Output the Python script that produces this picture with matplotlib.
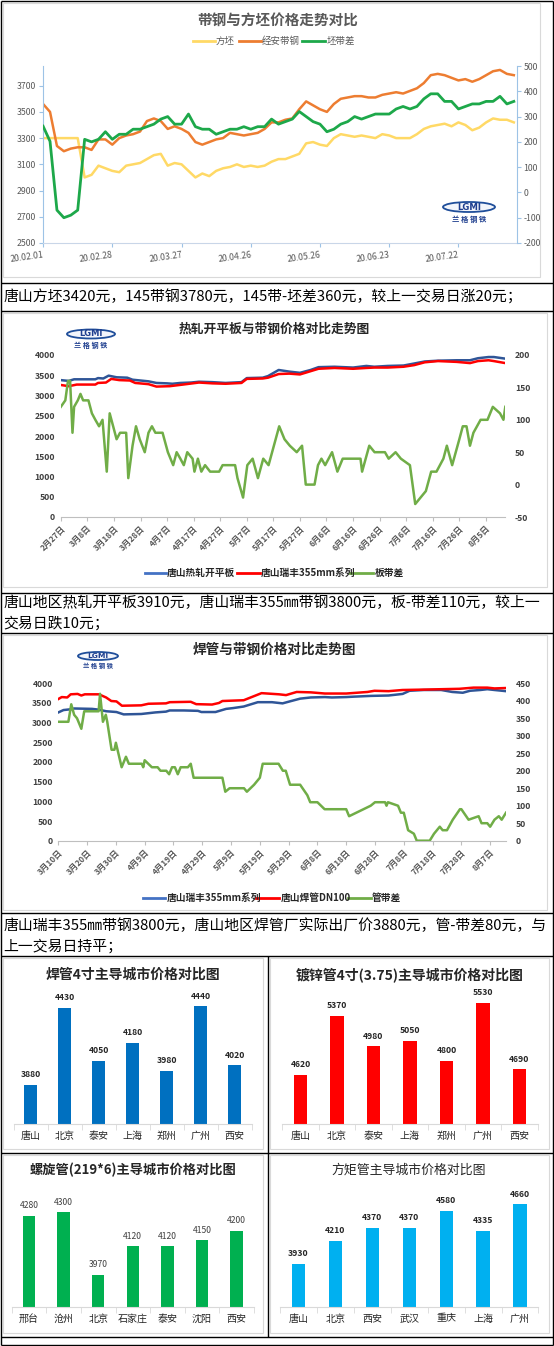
import matplotlib
matplotlib.use('Agg')
import matplotlib.pyplot as plt
from matplotlib.patches import Ellipse, Rectangle
import numpy as np

plt.rcParams['font.family'] = ['Noto Sans CJK SC', 'DejaVu Sans']
plt.rcParams['axes.unicode_minus'] = False

# ---------------- data ----------------
# Chart 1: 带钢与方坯价格走势对比 (every second trading day)
c1_labels = ['20.02.01', '20.02.28', '20.03.27', '20.04.26', '20.05.26', '20.06.23', '20.07.22']
billet1 = [3300, 3300, 3300, 3300, 3300, 3300, 3000, 3020, 3090, 3070,
           3050, 3040, 3090, 3100, 3110, 3140, 3170, 3180, 3090, 3110,
           3100, 3050, 3000, 3030, 3010, 3050, 3070, 3080, 3100, 3080,
           3090, 3080, 3090, 3120, 3140, 3140, 3160, 3180, 3260, 3270,
           3250, 3240, 3300, 3330, 3320, 3310, 3320, 3310, 3300, 3330,
           3320, 3300, 3300, 3300, 3330, 3370, 3390, 3400, 3410, 3390,
           3420, 3400, 3360, 3380, 3420, 3450, 3440, 3440, 3420]
strip1 = [3560, 3500, 3240, 3200, 3220, 3230, 3230, 3210, 3290, 3290,
          3250, 3300, 3320, 3330, 3350, 3430, 3450, 3430, 3370, 3390,
          3370, 3340, 3270, 3250, 3270, 3290, 3300, 3340, 3330, 3320,
          3330, 3340, 3370, 3420, 3420, 3440, 3450, 3520, 3580, 3550,
          3520, 3500, 3560, 3600, 3610, 3620, 3620, 3610, 3610, 3630,
          3640, 3650, 3640, 3660, 3680, 3720, 3780, 3790, 3780, 3760,
          3740, 3750, 3730, 3750, 3780, 3810, 3820, 3790, 3780]
diff1 = [262, 202, -70, -100, -90, -70, 210, 200, 210, 240,
         210, 230, 230, 250, 250, 260, 270, 290, 300, 270,
         270, 310, 260, 250, 250, 230, 240, 250, 250, 260,
         250, 260, 260, 290, 270, 280, 290, 320, 300, 280,
         270, 240, 250, 270, 280, 300, 290, 300, 310, 310,
         310, 330, 340, 330, 340, 370, 390, 390, 360, 360,
         330, 340, 350, 350, 360, 360, 380, 350, 360]

# Chart 2: 热轧开平板与带钢价格对比走势图 (days after 2月27日)
c2_labels = ['2月27日', '3月8日', '3月18日', '3月28日', '4月7日', '4月17日', '4月27日',
             '5月7日', '5月17日', '5月27日', '6月6日', '6月16日', '6月26日', '7月6日',
             '7月16日', '7月26日', '8月5日']
days2b = [0, 3, 5, 13, 14, 16, 18, 21, 25, 27,
          30, 33, 36, 40, 42, 45, 49, 52, 57, 62,
          68, 70, 76, 78, 82, 86, 90, 94, 97, 103,
          110, 115, 118, 123, 129, 133, 137, 142, 149, 154,
          157, 161, 163, 167.3]
hotroll2 = [3380, 3360, 3400, 3400, 3430, 3420, 3490, 3450, 3440, 3390,
            3370, 3350, 3310, 3300, 3290, 3310, 3320, 3340, 3330, 3310,
            3330, 3430, 3440, 3480, 3630, 3590, 3560, 3630, 3700, 3710,
            3690, 3730, 3710, 3730, 3740, 3790, 3840, 3860, 3870, 3870,
            3920, 3950, 3950, 3910]
days2r = [0, 3, 6, 13, 14, 17, 19, 22, 26, 28,
          33, 36, 41, 46, 52, 57, 62, 68, 70, 76,
          78, 82, 86, 90, 94, 97, 103, 110, 115, 118,
          123, 129, 133, 137, 142, 149, 154, 157, 161, 163,
          167.3]
ruifeng2 = [3260, 3230, 3270, 3270, 3310, 3320, 3410, 3380, 3370, 3310,
            3280, 3220, 3230, 3270, 3320, 3300, 3290, 3310, 3410, 3420,
            3440, 3530, 3540, 3520, 3600, 3660, 3680, 3660, 3680, 3690,
            3690, 3710, 3750, 3820, 3850, 3830, 3800, 3850, 3870, 3850,
            3800]
days2g = [0, 1.7, 2.7, 3.5, 4.4, 5, 6.4, 7.4, 8.4, 10.4,
          11.7, 13, 14.4, 15.7, 17.3, 18.4, 19.7, 21, 22.3, 24.6,
          25.4, 27, 28.3, 29.7, 31.6, 33, 34.3, 35.6, 38.3, 40.3,
          42.3, 43.6, 45, 46.3, 47.6, 49.6, 50.3, 51.6, 52.9, 54.3,
          56.2, 59.6, 60.9, 65.6, 66.5, 68.6, 70.2, 72.2, 74.2, 76.2,
          78.2, 80.2, 82.2, 84.2, 86.2, 88.8, 90.8, 92.2, 95.5, 96.8,
          98.1, 99.5, 102.1, 104.1, 106.1, 112.8, 113.4, 116.1, 118.1, 122,
          123.4, 126, 128, 131.4, 133.4, 137.4, 139.4, 141.4, 144, 145.3,
          147.3, 150, 151.3, 152.7, 154, 155.3, 158, 160.6, 162.6, 165.3,
          166.6, 167.3]
spread2 = [120, 130, 160, 160, 80, 120, 130, 140, 130, 130,
           110, 100, 90, 100, 20, 110, 90, 70, 80, 80,
           10, 60, 90, 70, 50, 80, 90, 80, 80, 50,
           30, 50, 40, 30, 50, 40, 20, 40, 20, 30,
           20, 20, 30, 30, 10, -20, 30, 40, 10, 40,
           30, 60, 90, 70, 60, 50, 60, 0, 0, 30,
           40, 30, 50, 20, 40, 40, 20, 60, 50, 50,
           40, 50, 40, 30, -30, -10, 20, 20, 40, 60,
           30, 70, 90, 90, 60, 80, 100, 100, 120, 110,
           100, 120]

# Chart 3: 焊管与带钢价格对比走势图 (days after 3月10日)
c3_labels = ['3月10日', '3月20日', '3月30日', '4月9日', '4月19日', '4月29日', '5月9日',
             '5月19日', '5月29日', '6月8日', '6月18日', '6月28日', '7月8日', '7月18日',
             '7月28日', '8月7日']
days3b = [0, 1.8, 4.3, 5.5, 11.7, 14.1, 16.6, 20.2, 22.7, 28.8,
          33.7, 37.4, 38.7, 43.6, 48.5, 49.7, 54.6, 58.3, 60.7, 64.4,
          69.3, 74.2, 77.9, 80.4, 84, 87.7, 92.6, 95, 100, 102.5,
          108.6, 114.7, 119.6, 122, 127, 133, 136.8, 140.5, 143, 146.6,
          149, 151.5, 155.5]
ruifeng3 = [3260, 3320, 3340, 3360, 3350, 3330, 3290, 3270, 3210, 3220,
            3260, 3280, 3310, 3310, 3300, 3270, 3270, 3350, 3370, 3410,
            3520, 3520, 3490, 3540, 3610, 3640, 3650, 3640, 3650, 3660,
            3680, 3690, 3730, 3810, 3830, 3830, 3780, 3760, 3810, 3830,
            3850, 3830, 3800]
days3r = [0, 1.2, 3.1, 4.3, 6.7, 8, 9.2, 14.1, 16.6, 18.4,
          20.2, 22.1, 28.8, 31.3, 37.4, 38.7, 46, 47.9, 53.4, 55.8,
          57, 64.4, 70.6, 76.7, 79.1, 82.8, 87.7, 92.6, 100, 107.4,
          109.8, 114.7, 119.6, 127, 133, 139.3, 144.2, 149, 151.5, 155.5]
weldpipe3 = [3600, 3650, 3640, 3720, 3730, 3690, 3720, 3720, 3640, 3550,
             3540, 3430, 3440, 3480, 3490, 3520, 3530, 3470, 3460, 3500,
             3550, 3570, 3750, 3720, 3700, 3780, 3770, 3740, 3740, 3780,
             3810, 3800, 3830, 3840, 3850, 3860, 3890, 3890, 3870, 3880]
days3g = [0, 3.5, 4.5, 5.5, 6.5, 8, 9, 14, 14.5, 15.5,
          16.5, 17, 18.5, 19.5, 20, 22, 23.5, 24.5, 29, 29.5,
          30, 32.5, 34.5, 35.5, 37.5, 38.5, 39.5, 40.5, 41.5, 42.5,
          45, 46, 47, 57, 58, 59.5, 64.5, 65.5, 68, 70,
          71, 76.5, 78, 79, 80.5, 84, 86.5, 87.5, 90, 92.5,
          100, 101, 103.5, 106, 108.5, 110, 113.5, 114, 114.5, 118,
          119, 120, 121.5, 123.5, 124.5, 129, 130.5, 132.5, 133.5, 135,
          137, 139.5, 140, 142.5, 146, 147, 149, 150, 151.5, 153,
          154, 155.5]
pipespread3 = [340, 340, 390, 360, 350, 320, 370, 370, 420, 340,
               360, 340, 260, 260, 280, 210, 240, 220, 220, 210,
               230, 210, 210, 200, 200, 190, 210, 210, 190, 210,
               210, 220, 180, 180, 140, 150, 150, 140, 160, 180,
               220, 220, 200, 200, 160, 160, 130, 110, 110, 90,
               90, 70, 80, 90, 100, 110, 110, 100, 110, 100,
               80, 80, 30, 20, 0, 0, 20, 40, 30, 30,
               60, 90, 90, 60, 70, 50, 50, 40, 60, 70,
               60, 80]

# Bar charts
cities_a = ['唐山', '北京', '泰安', '上海', '郑州', '广州', '西安']
weld4 = [3880, 4430, 4050, 4180, 3980, 4440, 4020]
cities_b = ['唐山', '北京', '泰安', '上海', '郑州', '广州', '西安']
galv4 = [4620, 5370, 4980, 5050, 4800, 5530, 4690]
cities_c = ['邢台', '沧州', '北京', '石家庄', '泰安', '沈阳', '西安']
spiral = [4280, 4300, 3970, 4120, 4120, 4150, 4200]
cities_d = ['唐山', '北京', '西安', '武汉', '重庆', '上海', '广州']
square = [3930, 4210, 4370, 4370, 4580, 4335, 4660]

text1 = '唐山方坯3420元，145带钢3780元，145带-坯差360元，较上一交易日涨20元；'
text2a = '唐山地区热轧开平板3910元，唐山瑞丰355㎜带钢3800元，板-带差110元，较上一'
text2b = '交易日跌10元；'
text3a = '唐山瑞丰355㎜带钢3800元，唐山地区焊管厂实际出厂价3880元，管-带差80元，与'
text3b = '上一交易日持平；'

# ---------------- figure ----------------
W, H = 554, 1346
fig = plt.figure(figsize=(W / 100, H / 100), dpi=100)
fig.patch.set_facecolor('white')

ov = fig.add_axes([0, 0, 1, 1])
ov.set_xlim(0, W)
ov.set_ylim(H, 0)
ov.axis('off')


def add_ax(x0, y0, x1, y1):
    ax = fig.add_axes([x0 / W, 1 - y1 / H, (x1 - x0) / W, (y1 - y0) / H])
    ax.set_facecolor('none')
    return ax


# light chart frames
for (x0, y0, x1, y1) in [(3, 3, 540, 277), (3, 313, 547, 587), (3, 635, 547, 910),
                         (3, 958, 263, 1149), (270, 958, 549, 1149),
                         (3, 1155, 263, 1333), (270, 1155, 549, 1333)]:
    ov.add_patch(Rectangle((x0, y0), x1 - x0, y1 - y0, fill=False, ec='#D9D9D9', lw=0.8))

# black table lines
K = dict(color='black', lw=1.0, solid_capstyle='butt')
ov.plot([1, 1], [0.5, 1345], **K)
ov.plot([552.5, 552.5], [0.5, 1345], **K)
for yy in [0.8, 283, 311, 593, 633, 913, 956, 1153, 1337, 1344.5]:
    ov.plot([1, 552.5], [yy, yy], **K)
ov.plot([267.5, 267.5], [956, 1337], **K)

# text rows
TS = dict(fontsize=10.7, color='black', va='center', ha='left')
ov.text(3.5, 297, text1, **TS)
ov.text(3.5, 603, text2a, **TS)
ov.text(3.5, 623, text2b, **TS)
ov.text(3.5, 926, text3a, **TS)
ov.text(3.5, 946, text3b, **TS)


def logo(cx, cy, w, h, fs):
    ov.add_patch(Ellipse((cx, cy), w, h, fc='#F2F5FB', ec='#1F4E9A', lw=1.3))
    ov.text(cx, cy, 'LGMI', ha='center', va='center', fontsize=fs, fontweight='bold',
            color='#1F3F8F', family='DejaVu Sans')
    ov.text(cx, cy + h * 1.2, '兰 格 钢 铁', ha='center', va='center', fontsize=fs * 0.85,
            fontweight='bold', color='#1F3F8F')


# ---------------- chart 1 ----------------
YEL, ORA, GRN1 = '#FFD966', '#ED7D31', '#1DA84A'
ov.text(278, 20, '带钢与方坯价格走势对比', ha='center', va='center', fontsize=10.5,
        fontweight='bold', color='#595959')
for (xa, xb, col, lab, xt) in [(192.6, 214.8, YEL, '方坯', 216),
                               (238.5, 260.8, ORA, '经安带钢', 262),
                               (302, 325, GRN1, '坯带差', 327)]:
    ov.plot([xa, xb], [41, 41], color=col, lw=2)
    ov.text(xt, 41, lab, va='center', ha='left', fontsize=6.8, color='#595959')

ax1 = add_ax(43.1, 66, 516.6, 243)
x1 = np.arange(len(strip1))
ax1.plot(x1, billet1, color=YEL, lw=1.8)
ax1.plot(x1, strip1, color=ORA, lw=1.8)
ax1.set_xlim(0, 68.4)
ax1.set_ylim(2500, 3850)
ax1.set_yticks(np.arange(2500, 3701, 200))
ax1r = ax1.twinx()
ax1r.plot(x1, diff1, color=GRN1, lw=2.0)
ax1r.set_ylim(-200, 500)
ax1r.set_yticks(np.arange(-200, 501, 100))
ax1.set_xticks(np.arange(0, 61, 10))
ax1.set_xticklabels(c1_labels, rotation=8, ha='right', rotation_mode='anchor')
for a in (ax1, ax1r):
    a.set_facecolor('none')
    for s in a.spines.values():
        s.set_color('#9DC3E6')
    a.spines['top'].set_visible(False)
    a.tick_params(axis='both', labelsize=6.3, labelcolor='#595959', color='#9DC3E6',
                  length=3, width=0.8, pad=2)
ax1.spines['right'].set_visible(False)
ax1r.spines['left'].set_visible(False)
ax1r.spines['bottom'].set_visible(False)
ax1.spines['bottom'].set_color('#C9D6E8')
logo(469, 207, 52, 10, 6.2)


# ---------------- helper for charts 2 and 3 ----------------
def style_dual(ax, axr, xticks, xlabels):
    for a in (ax, axr):
        a.set_facecolor('none')
        for k in ('top', 'left', 'right'):
            a.spines[k].set_visible(False)
        a.spines['bottom'].set_visible(False)
        a.tick_params(axis='y', length=0, labelsize=6.2, labelcolor='#404040')
        for t in a.get_yticklabels():
            t.set_fontweight('bold')
    ax.spines['bottom'].set_visible(True)
    ax.spines['bottom'].set_color('#BFBFBF')
    ax.set_xticks(xticks)
    ax.set_xticklabels(xlabels, rotation=45, ha='right', rotation_mode='anchor',
                       fontsize=6, fontweight='bold', color='#595959')
    ax.tick_params(axis='x', length=3, color='#BFBFBF', pad=2)
    ax.tick_params(axis='y', pad=4)
    axr.tick_params(axis='y', pad=7)


# ---------------- chart 2 ----------------
BLU, RED, GRN = '#2F5597', '#FF0000', '#70AD47'
ov.text(274, 329, '热轧开平板与带钢价格对比走势图', ha='center', va='center', fontsize=9.2,
        fontweight='bold', color='#262626')
logo(91, 334, 48, 9, 6)
ax2 = add_ax(60.8, 355, 505.3, 517)
ax2.plot(days2b, hotroll2, color=BLU, lw=1.8)
ax2.plot(days2r, ruifeng2, color=RED, lw=1.8)
ax2.set_xlim(0, 167.3)
ax2.set_ylim(0, 4000)
ax2.set_yticks(np.arange(0, 4001, 500))
ax2r = ax2.twinx()
ax2r.plot(days2g, spread2, color=GRN, lw=1.8)
ax2r.set_ylim(-50, 200)
ax2r.set_yticks(np.arange(-50, 201, 50))
style_dual(ax2, ax2r, np.arange(0, 161, 10), c2_labels)
for (xa, xb, col, lab, xt) in [(145, 166, '#4472C4', '唐山热轧开平板', 167),
                               (237, 260, RED, '唐山瑞丰355mm系列', 261),
                               (350, 373, GRN, '板带差', 375)]:
    ov.plot([xa, xb], [573, 573], color=col, lw=2)
    ov.text(xt, 573, lab, va='center', ha='left', fontsize=7, fontweight='bold', color='#262626')

# ---------------- chart 3 ----------------
ov.text(274, 650, '焊管与带钢价格对比走势图', ha='center', va='center', fontsize=9.8,
        fontweight='bold', color='#262626')
logo(98, 656, 40, 8, 5.4)
ax3 = add_ax(58.3, 683.3, 506, 840.7)
ax3.plot(days3b, ruifeng3, color=BLU, lw=1.8)
ax3.plot(days3r, weldpipe3, color=RED, lw=1.8)
ax3.set_xlim(0, 155.5)
ax3.set_ylim(0, 4000)
ax3.set_yticks(np.arange(0, 4001, 500))
ax3r = ax3.twinx()
ax3r.plot(days3g, pipespread3, color=GRN, lw=1.8)
ax3r.set_ylim(0, 450)
ax3r.set_yticks(np.arange(0, 451, 50))
style_dual(ax3, ax3r, np.arange(0, 151, 10), c3_labels)
for (xa, xb, col, lab, xt) in [(143, 165, '#4472C4', '唐山瑞丰355mm系列', 167),
                               (256, 279, RED, '唐山焊管DN100', 281),
                               (348, 371, GRN, '管带差', 372)]:
    ov.plot([xa, xb], [897.7, 897.7], color=col, lw=2)
    ov.text(xt, 897.7, lab, va='center', ha='left', fontsize=7, fontweight='bold', color='#262626')


# ---------------- bar charts ----------------
def bars(x0, x1, top_y, base_y, ymin, ymax, cats, vals, color, width, lab_bold):
    ax = add_ax(x0, top_y, x1, base_y)
    xs = np.arange(len(cats))
    ax.bar(xs, vals, width=width, color=color, edgecolor='none')
    ax.set_xlim(-0.5, len(cats) - 0.5)
    ax.set_ylim(ymin, ymax)
    ax.set_yticks([])
    for k in ('top', 'left', 'right'):
        ax.spines[k].set_visible(False)
    ax.spines['bottom'].set_color('#D9D9D9')
    ax.set_xticks(xs)
    ax.set_xticklabels(cats, fontsize=7.2, color='#262626')
    ax.set_xticks(np.arange(-0.5, len(cats), 1), minor=True)
    ax.tick_params(axis='x', which='major', length=0, pad=5)
    ax.tick_params(axis='x', which='minor', length=4, color='#D9D9D9')
    for xv, v in zip(xs, vals):
        ax.annotate(f'{v}', (xv, v), xytext=(0, 4), textcoords='offset points',
                    ha='center', va='bottom', fontsize=6.2,
                    fontweight='bold' if lab_bold else 'normal',
                    color='#262626' if lab_bold else '#404040')
    return ax


ov.text(132.5, 975, '焊管4寸主导城市价格对比图', ha='center', va='center', fontsize=10,
        fontweight='bold', color='#262626')
bars(13.7, 251.7, 984, 1124, 3600, 4600, cities_a, weld4, '#0070C0', 0.39, True)

ov.text(410, 975, '镀锌管4寸(3.75)主导城市价格对比图', ha='center', va='center', fontsize=10,
        fontweight='bold', color='#262626')
bars(282.2, 537.7, 984, 1124, 4000, 5770, cities_b, galv4, '#FF0000', 0.37, True)

ov.text(132.5, 1170, '螺旋管(219*6)主导城市价格对比图', ha='center', va='center', fontsize=9.5,
        fontweight='bold', color='#262626')
bars(11.7, 253.9, 1185, 1306.7, 3800, 4443, cities_c, spiral, '#00B050', 0.36, False)

ov.text(409, 1170, '方矩管主导城市价格对比图', ha='center', va='center', fontsize=9.3,
        fontweight='medium', color='#262626')
bars(280.1, 538.4, 1185, 1306.7, 3400, 4897, cities_d, square, '#00B0F0', 0.36, True)

fig.savefig('out.png', dpi=100, facecolor='white')
